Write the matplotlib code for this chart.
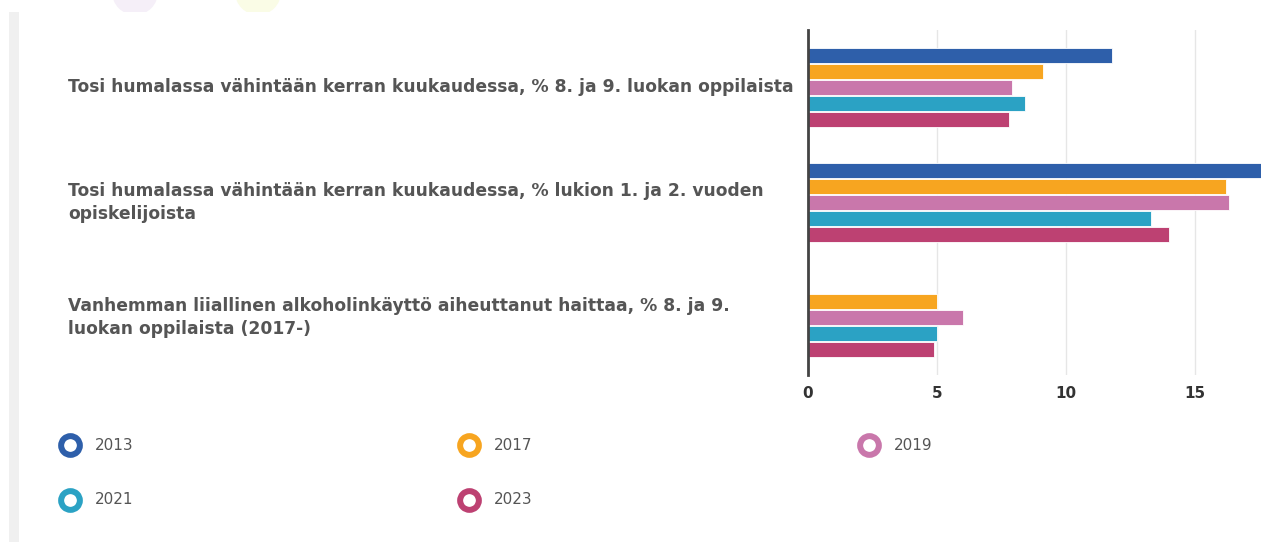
import matplotlib
matplotlib.use("Agg")
import matplotlib.pyplot as plt
import numpy as np
from matplotlib.lines import Line2D
from matplotlib.patches import Rectangle, Ellipse
import matplotlib.transforms as mtransforms

categories = [
    "Tosi humalassa vähintään kerran kuukaudessa, % 8. ja 9. luokan oppilaista",
    "Tosi humalassa vähintään kerran kuukaudessa, % lukion 1. ja 2. vuoden\nopiskelijoista",
    "Vanhemman liiallinen alkoholinkäyttö aiheuttanut haittaa, % 8. ja 9.\nluokan oppilaista (2017-)",
]
years = ["2013", "2017", "2019", "2021", "2023"]
v2013 = [11.8, 17.8, np.nan]
v2017 = [9.1, 16.2, 5.0]
v2019 = [7.9, 16.3, 6.0]
v2021 = [8.4, 13.3, 5.0]
v2023 = [7.8, 14.0, 4.9]
series = [v2013, v2017, v2019, v2021, v2023]
colors = ["#2e5faa", "#f7a520", "#c977ab", "#2ba2c4", "#bd4172"]
xticks = [0, 5, 10, 15]

W, H = 1261, 542
fig = plt.figure(figsize=(W / 100, H / 100), dpi=100)
fig.patch.set_facecolor("white")

# decorative page elements
fig.add_artist(Rectangle((9 / W, 0), 10 / W, (H - 12) / H, transform=fig.transFigure,
                         facecolor="#f0f0f0", edgecolor="none", zorder=0))
clip = Rectangle((0, (H - 12) / H), 1, 12 / H, transform=fig.transFigure, facecolor="none", edgecolor="none")
fig.add_artist(clip)
for cx, col in [(135, "#f5eff8"), (258, "#fafce6")]:
    e = Ellipse((cx / W, (H + 8) / H), 46 / W, 46 / H, transform=fig.transFigure,
                facecolor=col, edgecolor="none", zorder=0)
    fig.add_artist(e)
    e.set_clip_path(clip)

x0 = 808
scale = 25.8
ax = fig.add_axes([x0 / W, (H - 375) / H, (W - x0) / W, 345 / H])
ax.set_xlim(0, (W - x0) / scale)
ax.set_ylim(len(categories) - 0.5, -0.5)

pitch = 16 / 115
bh = 15 / 115
y = np.arange(len(categories))
for i, (vals, col) in enumerate(zip(series, colors)):
    ax.barh(y + (i - 2) * pitch, vals, height=bh, color=col, edgecolor="white",
            linewidth=0.6, zorder=3)

ax.set_xticks(xticks)
ax.set_xticklabels([str(t) for t in xticks])
ax.tick_params(axis="x", length=0, pad=8, labelsize=11, labelcolor="#333333")
ax.set_yticks([])
for lab in ax.get_xticklabels():
    lab.set_fontweight("bold")
ax.grid(axis="x", color="#e6e6e6", linewidth=1, zorder=0)
for s in ["top", "right", "bottom"]:
    ax.spines[s].set_visible(False)
ax.spines["left"].set_color("#444444")
ax.spines["left"].set_linewidth(2)
ax.spines["left"].set_zorder(5)

# category labels at left
trans = mtransforms.blended_transform_factory(fig.transFigure, ax.transData)
for yi, cat in zip(y, categories):
    ax.text(68 / W, yi, cat, transform=trans, ha="left", va="center", fontsize=12.3,
            fontweight="bold", color="#555555", linespacing=1.3, clip_on=False)

# legend
lx = [70, 469, 869]
ly = [445, 500]
for i, (yr, col) in enumerate(zip(years, colors)):
    r, c = divmod(i, 3)
    fx, fy = lx[c] / W, (H - ly[r]) / H
    fig.add_artist(Line2D([fx], [fy], transform=fig.transFigure, marker="o", markersize=13.5,
                          markerfacecolor="white", markeredgecolor=col, markeredgewidth=4.3,
                          linestyle="none"))
    fig.text((lx[c] + 25) / W, fy, yr, ha="left", va="center", fontsize=11, color="#555555")

fig.savefig("out.png", dpi=100, facecolor="white")
